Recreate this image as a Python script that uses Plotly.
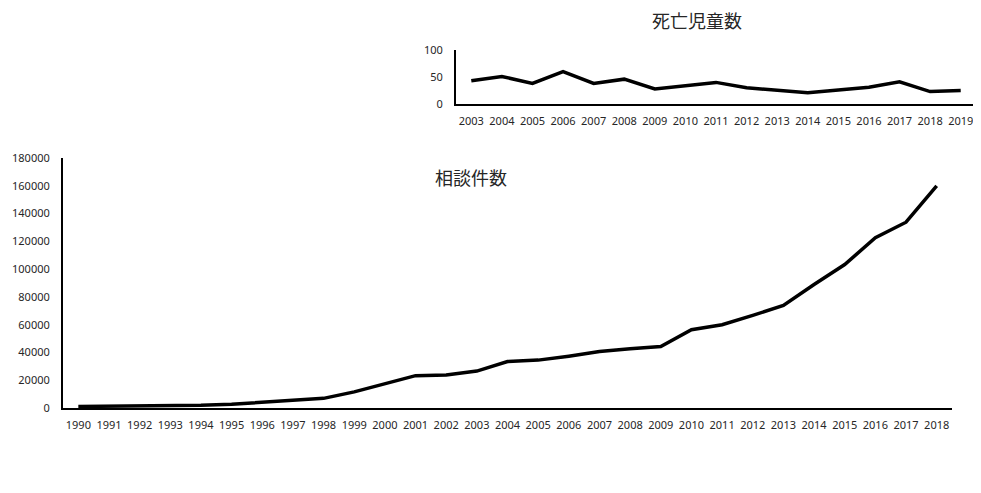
import plotly.graph_objects as go

W, H = 981, 493
OFF = 8  # page body margin offset

# Data
death_years = [str(y) for y in range(2003, 2020)]
death_counts = [43, 51, 38, 60, 38, 46, 28, 34, 40, 30, 25, 21, 26, 31, 41, 23, 25]

consult_years = [str(y) for y in range(1990, 2019)]
consult_counts = [1101, 1171, 1372, 1611, 1961, 2722, 4102, 5352, 6932, 11631,
                  17725, 23274, 23738, 26569, 33408, 34472, 37323, 40639, 42664, 44211,
                  56384, 59919, 66701, 73802, 88931, 103286, 122575, 133778, 159850]

top_title = "死亡児童数"
bottom_title = "相談件数"

FONT = "Noto Sans, Noto Sans CJK JP, sans-serif"
CJK = "Noto Sans CJK JP, Noto Sans, sans-serif"
TXT = "#262626"

def px_x(x):
    return (x - OFF) / W

def px_y(y):
    return (H - (y - OFF)) / H

fig = go.Figure()

fig.add_trace(go.Scatter(x=consult_years, y=consult_counts, mode="lines",
                         line=dict(color="black", width=3.5),
                         xaxis="x", yaxis="y", showlegend=False))
fig.add_trace(go.Scatter(x=death_years, y=death_counts, mode="lines",
                         line=dict(color="black", width=3.5),
                         xaxis="x2", yaxis="y2", showlegend=False))

axis_common = dict(showgrid=False, zeroline=False, ticks="", fixedrange=True,
                   automargin=False,
                   tickfont=dict(family=FONT, size=11, color=TXT))

fig.update_layout(
    template="none",
    width=W, height=H,
    margin=dict(l=0, r=0, t=0, b=0, pad=0),
    paper_bgcolor="white", plot_bgcolor="white",
    showlegend=False,
    xaxis=dict(axis_common, type="category", domain=[px_x(63), px_x(952)],
               range=[-0.5, len(consult_years) - 0.5],
               anchor="y", showline=True, linecolor="black", linewidth=2,
               ticklabelstandoff=6, tickangle=0),
    yaxis=dict(axis_common, domain=[px_y(408), px_y(158)], range=[0, 180000],
               dtick=20000, tickformat="d", anchor="x", showline=True,
               linecolor="black", linewidth=2, ticklabelstandoff=9),
    xaxis2=dict(axis_common, type="category", domain=[px_x(456), px_x(976)],
                range=[-0.5, len(death_years) - 0.5],
                anchor="y2", showline=True, linecolor="black", linewidth=2,
                ticklabelstandoff=6, tickangle=0),
    yaxis2=dict(axis_common, domain=[px_y(104), px_y(50)], range=[0, 100],
                dtick=50, anchor="x2", showline=True, linecolor="black",
                linewidth=2, ticklabelstandoff=9),
    annotations=[
        dict(text=top_title, x=px_x(697), y=px_y(20), xref="paper", yref="paper",
             showarrow=False, xanchor="center", yanchor="middle",
             font=dict(family=CJK, size=18, color=TXT)),
        dict(text=bottom_title, x=px_x(471), y=px_y(177), xref="paper", yref="paper",
             showarrow=False, xanchor="center", yanchor="middle",
             font=dict(family=CJK, size=18, color=TXT)),
    ],
)

fig.write_html("out.html")
